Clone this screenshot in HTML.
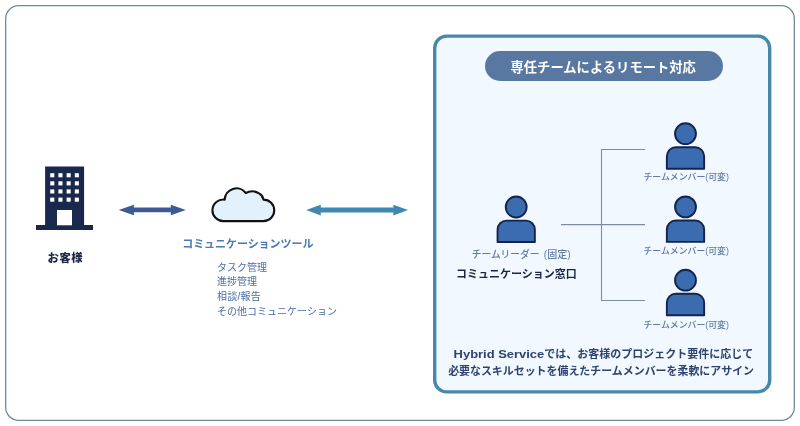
<!DOCTYPE html>
<html lang="ja">
<head>
<meta charset="utf-8">
<title>Hybrid Service</title>
<style>
html,body{margin:0;padding:0;background:#fff;}
body{width:800px;height:426px;overflow:hidden;position:relative;font-family:"Liberation Sans","Noto Sans CJK JP",sans-serif;}
svg{position:absolute;left:0;top:0;display:block;will-change:transform;}
text{font-family:"Liberation Sans","Noto Sans CJK JP",sans-serif;}
.b{font-weight:700;}
.m{font-weight:500;}
</style>
</head>
<body>
<svg width="800" height="426" viewBox="0 0 800 426">
  <!-- outer frame -->
  <rect x="5.65" y="5.65" width="788.7" height="414.7" rx="13" ry="13" fill="#ffffff" stroke="#708a9b" stroke-width="1.3"/>

  <!-- right panel -->
  <rect x="434.7" y="36.1" width="335" height="355.8" rx="12" ry="12" fill="#f1f8ff" stroke="#4788ab" stroke-width="3.4"/>

  <!-- title pill -->
  <rect x="485" y="51" width="238" height="30" rx="15" ry="15" fill="#5878a2"/>
  <text x="603.2" y="71.8" text-anchor="middle" font-size="13.3" class="b" fill="#ffffff">専任チームによるリモート対応</text>

  <!-- building -->
  <g fill="#1b284d">
    <rect x="45.1" y="166.5" width="39" height="60"/>
    <rect x="36" y="225" width="57" height="5"/>
  </g>
  <g fill="#ffffff">
    <rect x="57" y="210" width="15" height="15.3"/>
    <g id="wrow">
      <rect x="50.2" y="173.2" width="4.1" height="4.1"/>
      <rect x="58.4" y="173.2" width="4.1" height="4.1"/>
      <rect x="66.6" y="173.2" width="4.1" height="4.1"/>
      <rect x="74.8" y="173.2" width="4.1" height="4.1"/>
    </g>
    <use href="#wrow" y="8.1"/>
    <use href="#wrow" y="16.2"/>
    <use href="#wrow" y="24.4"/>
  </g>
  <text x="47.6" y="261.6" font-size="11.3" font-weight="900" fill="#1e2946" textLength="35">お客様</text>

  <!-- arrow 1 -->
  <path d="M118.7 209.9 L133.9 204.7 L133.9 207.5 L170.8 207.5 L170.8 204.7 L185.8 209.9 L170.8 215.2 L170.8 212.3 L133.9 212.3 L133.9 215.2 Z" fill="#3b5a96"/>
  <!-- arrow 2 -->
  <path d="M306.2 210.1 L320.8 204.8 L320.8 207.6 L393.4 207.6 L393.4 204.8 L408 210.1 L393.4 215.4 L393.4 212.6 L320.8 212.6 L320.8 215.4 Z" fill="#3f88b1"/>

  <!-- cloud -->
  <path d="M223.5 221.1 A10.8 10.8 0 1 1 224.7 199.6 A11.75 11.75 0 0 1 245.8 193 A13 13 0 0 1 259 193.4 A8.5 8.5 0 0 1 263.5 199.6 A10.75 10.75 0 0 1 263.5 221.1 Z" fill="#e3f1fc" stroke="#111111" stroke-width="2.1" stroke-linejoin="round"/>

  <text x="182.2" y="247.7" font-size="11" class="b" fill="#4d78b4" textLength="131.2">コミュニケーションツール</text>
  <g font-size="10" fill="#4a6ea8">
    <text x="217.1" y="270.6">タスク管理</text>
    <text x="217.1" y="285.4">進捗管理</text>
    <text x="217.1" y="300.2" textLength="43.6">相談/報告</text>
    <text x="217.1" y="314.9">その他コミュニケーション</text>
  </g>

  <!-- connectors -->
  <path d="M645 149.5 H601.5 V300.5 H645 M561 224.6 H645" fill="none" stroke="#7a8ca9" stroke-width="1.1"/>

  <!-- people -->
  <defs>
    <g id="person">
      <circle cx="0" cy="0" r="10.45" fill="#3c6cb0" stroke="#13234b" stroke-width="1.9"/>
      <path d="M-18.65 35 V22.6 A9 9 0 0 1 -9.65 13.6 H9.65 A9 9 0 0 1 18.65 22.6 V35 Z" fill="#3c6cb0" stroke="#13234b" stroke-width="1.9" stroke-linejoin="round"/>
    </g>
  </defs>
  <use href="#person" x="516.2" y="207"/>
  <use href="#person" x="685.5" y="133.7"/>
  <use href="#person" x="685.5" y="206.9"/>
  <use href="#person" x="685.5" y="280.2"/>

  <text x="471.8" y="257.9" font-size="9.7" class="m" fill="#617a9f">チームリーダー <tspan x="543.8" font-size="10">(固定)</tspan></text>
  <text x="516.3" y="277.5" text-anchor="middle" font-size="11" class="b" fill="#1b2543">コミュニケーション窓口</text>
  <g font-size="8.9" class="m" fill="#617a9f" text-anchor="middle">
    <text x="686.2" y="180">チームメンバー(可変)</text>
    <text x="686.2" y="254.2">チームメンバー(可変)</text>
    <text x="686.2" y="328.2">チームメンバー(可変)</text>
  </g>

  <g font-size="11" class="b" fill="#2d4271">
    <text x="453.6" y="357.8"><tspan textLength="90.6" lengthAdjust="spacingAndGlyphs">Hybrid Service</tspan>では、お客様のプロジェクト要件に応じて</text>
    <text x="601.1" y="375.1" text-anchor="middle" font-size="10.95">必要なスキルセットを備えたチームメンバーを柔軟にアサイン</text>
  </g>
</svg>
</body>
</html>
